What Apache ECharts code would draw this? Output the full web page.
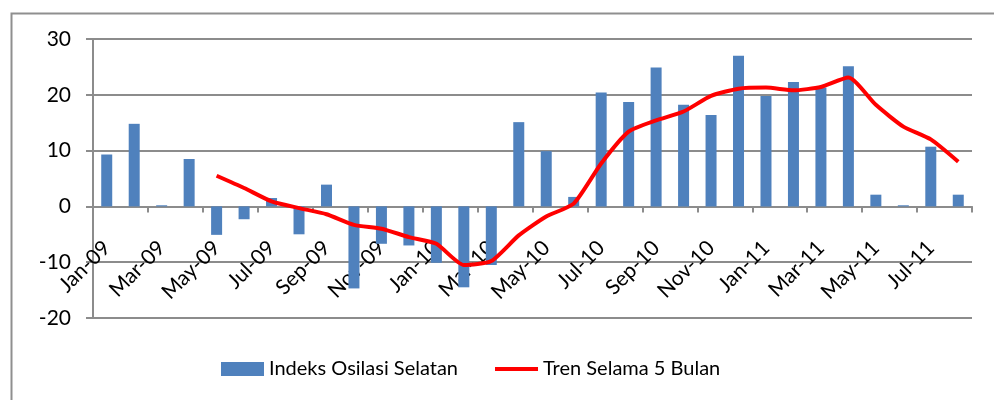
<!DOCTYPE html>
<html>
<head>
<meta charset="utf-8">
<script src="https://cdn.jsdelivr.net/npm/echarts@6/dist/echarts.min.js"></script>
<style>
  html, body { margin: 0; padding: 0; background: #fff; }
  #chart { width: 994px; height: 400px; }
</style>
</head>
<body>
<div id="chart"></div>
<script>
  // bulan Jan-09 .. Aug-11
  const months = [
    'Jan-09', 'Feb-09', 'Mar-09', 'Apr-09', 'May-09', 'Jun-09', 'Jul-09', 'Aug-09',
    'Sep-09', 'Oct-09', 'Nov-09', 'Dec-09', 'Jan-10', 'Feb-10', 'Mar-10', 'Apr-10',
    'May-10', 'Jun-10', 'Jul-10', 'Aug-10', 'Sep-10', 'Oct-10', 'Nov-10', 'Dec-10',
    'Jan-11', 'Feb-11', 'Mar-11', 'Apr-11', 'May-11', 'Jun-11', 'Jul-11', 'Aug-11'
  ];
  const soiValues = [
    9.3, 14.8, 0.2, 8.5, -5.1, -2.3, 1.5, -5.0,
    3.9, -14.7, -6.7, -7.0, -10.1, -14.5, -10.5, 15.1,
    9.9, 1.7, 20.4, 18.7, 24.9, 18.2, 16.4, 27.0,
    19.8, 22.3, 21.3, 25.1, 2.1, 0.2, 10.7, 2.1
  ];
  // rata-rata 5 bulan, mulai May-09
  const trendValues = [
    null, null, null, null, 5.5, 3.3, 0.9, -0.3,
    -1.4, -3.3, -4.0, -5.5, -6.7, -10.5, -9.8, -5.2,
    -1.8, 0.5, 7.7, 13.4, 15.4, 17.0, 19.8, 21.1,
    21.3, 20.8, 21.4, 23.1, 18.2, 14.3, 12.0, 8.0
  ];
  const yTicks = { min: -20, max: 30, interval: 10 };

  const chart = echarts.init(document.getElementById('chart'));
  const font = 'Lato';
  const gray = '#8c8c8c';

  // sumbu x diletakkan di garis nol
  const plotTop = 39, plotBottom = 82, plotH = 400 - plotTop - plotBottom;
  const zeroShift = plotH * (0 - yTicks.min) / (yTicks.max - yTicks.min);

  const option = {
    animation: false,
    textStyle: { fontFamily: font },
    graphic: [{
      type: 'rect',
      left: 9, top: 11,
      shape: { width: 1000, height: 400 },
      style: { fill: 'none', stroke: '#8f8f8f', lineWidth: 2 },
      silent: true
    }],
    grid: {
      left: 93, right: 22, top: plotTop, bottom: plotBottom,
      containLabel: false,
      outerBoundsMode: 'none'
    },
    legend: {
      bottom: 16,
      left: 216,
      itemGap: 37,
      itemWidth: 43,
      itemHeight: 14,
      textStyle: { fontSize: 20, color: '#000', fontFamily: font },
      data: [
        { name: 'Indeks Osilasi Selatan', icon: 'rect' },
        { name: 'Tren Selama 5 Bulan', icon: 'path://M0,0 L43,0 L43,4 L0,4 Z' }
      ]
    },
    xAxis: {
      type: 'category',
      data: months,
      position: 'bottom',
      offset: -zeroShift,
      axisLine: { onZero: false, lineStyle: { color: gray, width: 2 } },
      axisTick: { show: true, interval: 1, length: 6, lineStyle: { color: gray, width: 2 } },
      axisLabel: {
        interval: 1,
        rotate: 45,
        margin: 38,
        fontSize: 21,
        color: '#000',
        fontFamily: font
      }
    },
    yAxis: {
      type: 'value',
      min: yTicks.min,
      max: yTicks.max,
      interval: yTicks.interval,
      axisLine: { show: true, lineStyle: { color: gray, width: 2 } },
      axisTick: { show: true, length: 7, lineStyle: { color: gray, width: 2 } },
      axisLabel: { fontSize: 21, color: '#000', margin: 22, fontFamily: font },
      splitLine: { lineStyle: { color: gray, width: 2 } }
    },
    series: [
      {
        name: 'Indeks Osilasi Selatan',
        type: 'bar',
        data: soiValues,
        barWidth: 11,
        itemStyle: { color: '#4f81bd' }
      },
      {
        name: 'Tren Selama 5 Bulan',
        type: 'line',
        data: trendValues,
        smooth: 0.2,
        showSymbol: false,
        symbol: 'none',
        lineStyle: { color: '#ff0000', width: 4 },
        itemStyle: { color: '#ff0000' }
      }
    ]
  };

  chart.setOption(option);
</script>
</body>
</html>
